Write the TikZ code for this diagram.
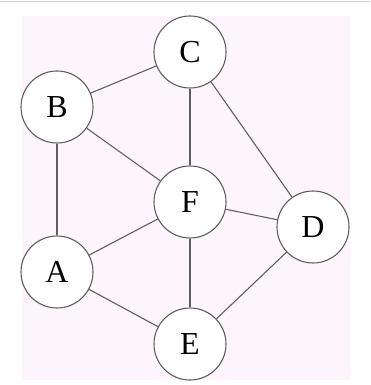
\documentclass[tikz,border=0pt]{standalone}
\usepackage{fontspec}
\setmainfont{Liberation Serif}
\usepackage{tikz}

\definecolor{bgpink}{RGB}{252,245,252}
\definecolor{edgegray}{RGB}{95,95,95}

\begin{document}
\begin{tikzpicture}[x=1pt,y=-1pt]

        \useasboundingbox (0,0) rectangle (370,385);
        \fill[white] (0,0) rectangle (370,385);
        \draw[gray!40, line width=1.5pt] (0,1.5) -- (370,1.5);
        \fill[bgpink] (22,16) rectangle (350,380);

        \begin{scope}[every node/.style={circle,draw=edgegray,fill=white,line width=1.1pt,
            minimum size=72pt,inner sep=0pt,font=\fontsize{32}{32}\selectfont}]
          \node (C) at (190,52)  {C};
          \node (B) at (57,107)  {B};
          \node (F) at (190,202) {F};
          \node (D) at (313,227) {D};
          \node (A) at (57,272)  {A};
          \node (E) at (190,344) {E};
        \end{scope}

        \begin{scope}[every edge/.style={draw=edgegray,line width=1.1pt}]
          \path (B) edge (C);
          \path (C) edge (F);
          \path (C) edge (D);
          \path (B) edge (F);
          \path (B) edge (A);
          \path (F) edge (D);
          \path (F) edge (A);
          \path (F) edge (E);
          \path (A) edge (E);
          \path (E) edge (D);
        \end{scope}

      \end{tikzpicture}
\end{document}
